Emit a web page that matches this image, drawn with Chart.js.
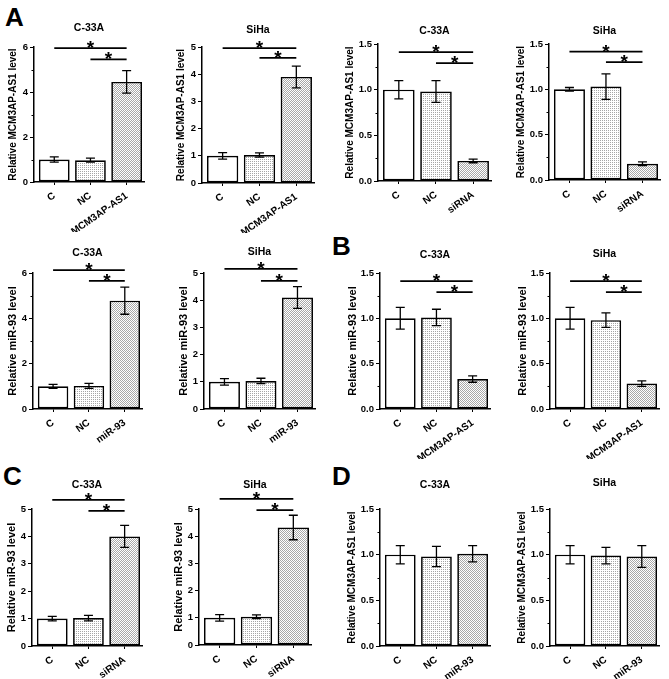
<!DOCTYPE html>
<html>
<head>
<meta charset="utf-8">
<script src="https://cdn.jsdelivr.net/npm/chart.js@4.4.1/dist/chart.umd.min.js"></script>
<style>
    body { margin: 0; background: #fff; width: 669px; height: 679px; position: relative; overflow: hidden; font-family: "Liberation Sans", Arial, sans-serif; }
    canvas { position: absolute; }
    .panel-letter { position: absolute; font-weight: bold; font-size: 26px; line-height: 1; color: #000; }
</style>
</head>
<body>
<div class="panel-letter" style="left:5px;top:4px">A</div>
<div class="panel-letter" style="left:332px;top:233px">B</div>
<div class="panel-letter" style="left:3px;top:463px">C</div>
<div class="panel-letter" style="left:332px;top:463px">D</div>
<script>
// one entry per small chart, left to right, top to bottom
const cellLines = ['C-33A', 'SiHa', 'C-33A', 'SiHa', 'C-33A', 'SiHa', 'C-33A', 'SiHa', 'C-33A', 'SiHa', 'C-33A', 'SiHa'];
const groupLabels = [
    ['C', 'NC', 'MCM3AP-AS1'], ['C', 'NC', 'MCM3AP-AS1'], ['C', 'NC', 'siRNA'], ['C', 'NC', 'siRNA'],
    ['C', 'NC', 'miR-93'], ['C', 'NC', 'miR-93'], ['C', 'NC', 'MCM3AP-AS1'], ['C', 'NC', 'MCM3AP-AS1'],
    ['C', 'NC', 'siRNA'], ['C', 'NC', 'siRNA'], ['C', 'NC', 'miR-93'], ['C', 'NC', 'miR-93']
];
const yTitles = [
    'Relative MCM3AP-AS1 level', 'Relative MCM3AP-AS1 level', 'Relative MCM3AP-AS1 level', 'Relative MCM3AP-AS1 level',
    'Relative miR-93 level', 'Relative miR-93 level', 'Relative miR-93 level', 'Relative miR-93 level',
    'Relative miR-93 level', 'Relative miR-93 level', 'Relative MCM3AP-AS1 level', 'Relative MCM3AP-AS1 level'
];
const means = [
    [1.0, 0.97, 4.45], [1.0, 1.03, 3.9], [1.0, 0.98, 0.22], [1.0, 1.03, 0.18],
    [1.0, 1.02, 4.78], [1.0, 1.03, 4.1], [1.0, 1.01, 0.33], [1.0, 0.98, 0.28],
    [1.0, 1.02, 4.0], [1.0, 1.04, 4.32], [1.0, 0.98, 1.01], [1.0, 0.99, 0.98]
];
const errors = [
    [0.12, 0.09, 0.5], [0.12, 0.08, 0.4], [0.1, 0.12, 0.02], [0.02, 0.14, 0.02],
    [0.09, 0.11, 0.6], [0.12, 0.1, 0.4], [0.12, 0.09, 0.035], [0.12, 0.08, 0.03],
    [0.08, 0.1, 0.4], [0.12, 0.07, 0.45], [0.1, 0.11, 0.09], [0.1, 0.09, 0.12]
];
const yMax = [6, 5, 1.5, 1.5, 6, 5, 1.5, 1.5, 5, 5, 1.5, 1.5];
const yStep = [2, 1, 0.5, 0.5, 2, 1, 0.5, 0.5, 1, 1, 0.5, 0.5];
const yMinorStep = [1, 0, 0.25, 0.25, 1, 0, 0.25, 0.25, 0, 0, 0.25, 0.25];
// heights of the two significance brackets (C vs 3rd, NC vs 3rd)
const sigLevels = [
    [5.95, 5.45], [4.96, 4.6], [1.41, 1.29], [1.415, 1.3],
    [6.13, 5.65], [5.15, 4.71], [1.41, 1.29], [1.41, 1.29],
    [5.33, 4.93], [5.37, 4.96], [], []
];

// plot areas on the page: left, top, right, bottom, title y
const areas = [
    [34, 47, 144, 182, 28], [202, 47, 314, 183, 30], [378, 44, 491, 181, 31], [549, 44, 660, 180, 31],
    [33, 273, 142, 409, 253], [204, 273, 315, 409, 252], [380, 273, 490, 409, 255], [550, 273, 659, 409, 254],
    [32, 509, 142, 646, 485], [199, 509, 311, 645, 485], [380, 509, 490, 646, 485], [550, 509, 659, 646, 483]
];

function dots(bg, dot, cells) {
    let c = document.createElement('canvas');
    c.width = 2; c.height = 2;
    let g = c.getContext('2d');
    g.fillStyle = bg;
    g.fillRect(0, 0, 2, 2);
    g.fillStyle = dot;
    cells.forEach(function (p) { g.fillRect(p[0], p[1], 1, 1); });
    return g.createPattern(c, 'repeat');
}
let fills = ['#ffffff', dots('#ffffff', '#a6a6a6', [[0, 0]]), dots('#ffffff', '#a8a8a8', [[0, 0], [1, 1]])];

const panelExtras = {
    id: 'panelExtras',
    afterDatasetsDraw(chart, args, opts) {
        let ctx = chart.ctx;
        let xs = chart.scales.x, ys = chart.scales.y, area = chart.chartArea;
        ctx.save();
        ctx.strokeStyle = '#000';
        ctx.fillStyle = '#000';

        // error bars
        ctx.lineWidth = 1.3;
        opts.means.forEach(function (m, i) {
            let px = xs.getPixelForValue(i);
            let top = ys.getPixelForValue(m + opts.errors[i]);
            let bot = ys.getPixelForValue(m - opts.errors[i]);
            ctx.beginPath();
            ctx.moveTo(px, top); ctx.lineTo(px, bot);
            ctx.moveTo(px - 4.5, top); ctx.lineTo(px + 4.5, top);
            ctx.moveTo(px - 4.5, bot); ctx.lineTo(px + 4.5, bot);
            ctx.stroke();
        });

        // minor ticks on y
        if (opts.minor) {
            ctx.lineWidth = 1;
            for (let v = opts.minor; v < ys.max; v += opts.minor) {
                if (Math.abs(v / opts.major - Math.round(v / opts.major)) < 1e-6) continue;
                let py = Math.round(ys.getPixelForValue(v)) + 0.5;
                ctx.beginPath();
                ctx.moveTo(area.left, py); ctx.lineTo(area.left - 2.5, py);
                ctx.stroke();
            }
        }

        // significance brackets
        ctx.lineWidth = 1.8;
        ctx.font = 'bold 19px "Liberation Sans", Arial, sans-serif';
        ctx.textAlign = 'center';
        ctx.textBaseline = 'alphabetic';
        opts.sig.forEach(function (lv, k) {
            let x1 = xs.getPixelForValue(k), x2 = xs.getPixelForValue(2);
            let py = ys.getPixelForValue(lv);
            ctx.beginPath();
            ctx.moveTo(x1, py); ctx.lineTo(x2, py);
            ctx.stroke();
            ctx.fillText('*', (x1 + x2) / 2, py + 6);
        });

        // panel title
        ctx.font = 'bold 10.5px "Liberation Sans", Arial, sans-serif';
        ctx.textBaseline = 'middle';
        ctx.fillText(opts.title, (area.left + area.right) / 2, opts.titleY);
        ctx.restore();
    }
};

for (let i = 0; i < 12; i++) {
    let a = areas[i];
    let decimal = yMax[i] < 2;
    let yW = decimal ? 41 : 34;
    let padTop = 46, xH = 50;
    let x0 = a[0] - yW, y0 = a[1] - padTop;
    let cv = document.createElement('canvas');
    cv.width = a[2] - x0 + 6;
    cv.height = a[3] - y0 + xH;
    cv.style.left = x0 + 'px';
    cv.style.top = y0 + 'px';
    document.body.appendChild(cv);

    let labels = groupLabels[i];
    let titleFont = yTitles[i].indexOf('miR') >= 0 ? 11 : 10;

    new Chart(cv.getContext('2d'), {
        type: 'bar',
        data: {
            datasets: [{
                data: means[i].map(function (v, k) { return { x: k, y: v }; }),
                backgroundColor: fills,
                borderColor: '#000',
                borderWidth: 1.7,
                borderSkipped: false,
                barPercentage: 0.85,
                categoryPercentage: 1
            }]
        },
        options: {
            responsive: false,
            animation: false,
            devicePixelRatio: 1,
            layout: { padding: { left: 0, top: padTop, right: 6, bottom: 0 } },
            plugins: {
                legend: { display: false },
                tooltip: { enabled: false },
                panelExtras: {
                    means: means[i],
                    errors: errors[i],
                    sig: sigLevels[i],
                    minor: yMinorStep[i],
                    major: yStep[i],
                    title: cellLines[i],
                    titleY: a[4] - y0
                }
            },
            scales: {
                x: {
                    type: 'linear',
                    offset: false,
                    min: -0.56,
                    max: 2.48,
                    afterBuildTicks: function (s) { s.ticks = [{ value: 0 }, { value: 1 }, { value: 2 }]; },
                    afterFit: function (s) { s.height = xH; },
                    border: { display: true, color: '#000', width: 1.5 },
                    grid: { display: true, drawOnChartArea: false, drawTicks: true, tickLength: 3, color: '#000', offset: false },
                    ticks: {
                        autoSkip: false,
                        minRotation: 35,
                        maxRotation: 35,
                        padding: 5,
                        color: '#000',
                        font: { family: '"Liberation Sans", Arial, sans-serif', size: 10, weight: 'bold' },
                        callback: function (v) { return labels[v]; }
                    }
                },
                y: {
                    min: 0,
                    max: yMax[i],
                    afterFit: function (s) { s.width = yW; },
                    border: { display: true, color: '#000', width: 1.5 },
                    grid: { display: true, drawOnChartArea: false, drawTicks: true, tickLength: 4, color: '#000' },
                    ticks: {
                        stepSize: yStep[i],
                        padding: 2,
                        color: '#000',
                        font: { family: '"Liberation Sans", Arial, sans-serif', size: 9.5, weight: 'bold' },
                        callback: function (v) { return decimal ? v.toFixed(1) : String(v); }
                    },
                    title: {
                        display: true,
                        text: yTitles[i],
                        color: '#000',
                        padding: { top: 7, bottom: 0 },
                        font: { family: '"Liberation Sans", Arial, sans-serif', size: titleFont, weight: 'bold' }
                    }
                }
            }
        },
        plugins: [panelExtras]
    });
}
</script>
</body>
</html>
